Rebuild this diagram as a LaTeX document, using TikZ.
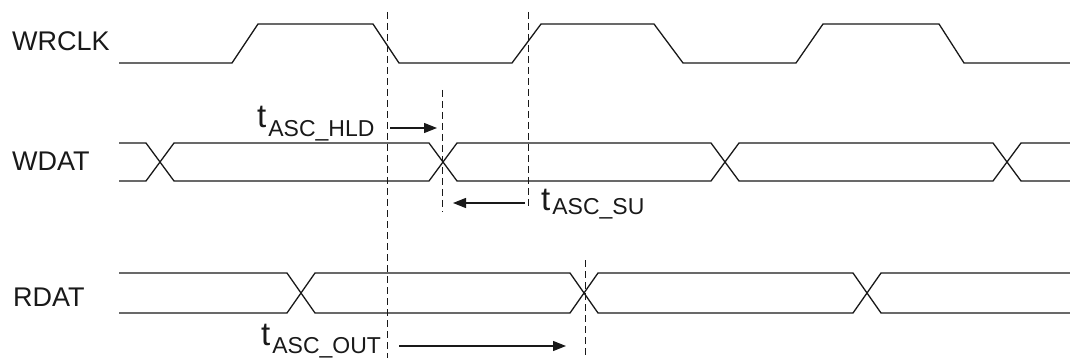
\documentclass[tikz,border=0pt]{standalone}
\usepackage{fontspec}
\setmainfont{Liberation Sans}
\usetikzlibrary{arrows.meta}
\newcommand\tsig[2]{{\fontsize{33}{38}\selectfont t}\hspace{2pt}\raisebox{-#2pt}{\fontsize{23}{27}\selectfont #1}}
\begin{document}
\begin{tikzpicture}[x=1pt,y=-1pt,
  sig/.style={line width=1.3pt, line join=miter, draw=black!90},
  guide/.style={line width=1pt, dash pattern=on 7pt off 4pt, draw=black!90},
  timarrow/.style={line width=1.2pt, draw=black!90, -{Triangle[length=13pt,width=10pt]}},
  lab/.style={anchor=base west, inner sep=0pt, text=black!90, font=\fontsize{27}{31}\selectfont},
  tlab/.style={anchor=base west, inner sep=0pt, text=black!90}]
\useasboundingbox (0,0) rectangle (1070,358);

% signal names
\node[lab] (wrclk) at (12,51) {WRCLK};
\node[lab] (wdat) at (12,171) {WDAT};
\node[lab] (rdat) at (13,306) {RDAT};

% WRCLK
\draw[sig] (119,63) -- (232,63) -- (258,24) -- (373,24) -- (399,63) -- (512,63) -- (541,24)
  -- (654,24) -- (683,63) -- (796,63) -- (823,24) -- (939,24) -- (964,63) -- (1070,63);

% WDAT (top 143, bottom 181), crossings at 160, 443, 725, 1007
\draw[sig] (119,143) -- (146,143) -- (174,181) -- (429,181) -- (457,143) -- (711,143) -- (739,181)
  -- (993,181) -- (1021,143) -- (1070,143);
\draw[sig] (119,181) -- (146,181) -- (174,143) -- (429,143) -- (457,181) -- (711,181) -- (739,143)
  -- (993,143) -- (1021,181) -- (1070,181);

% RDAT (top 273, bottom 313), crossings at 301, 584, 867
\draw[sig] (119,273) -- (287,273) -- (315,313) -- (570,313) -- (598,273) -- (853,273) -- (881,313)
  -- (1070,313);
\draw[sig] (119,313) -- (287,313) -- (315,273) -- (570,273) -- (598,313) -- (853,313) -- (881,273)
  -- (1070,273);

% dashed reference lines
\coordinate (d1t) at (387,12);   \coordinate (d1b) at (387,358);
\coordinate (d2t) at (528,12);   \coordinate (d2b) at (528,208);
\coordinate (d3t) at (442.5,90); \coordinate (d3b) at (442.5,212);
\coordinate (d4t) at (585,260);  \coordinate (d4b) at (585,358);
\draw[guide] (d1t) -- (d1b);
\draw[guide] (d2t) -- (d2b);
\draw[guide] (d3t) -- (d3b);
\draw[guide] (d4t) -- (d4b);

% timing arrows
\coordinate (hldA) at (390,128); \coordinate (hldB) at (437,128);
\coordinate (suA) at (525,203);  \coordinate (suB) at (453,203);
\coordinate (outA) at (399,346); \coordinate (outB) at (566,346);
\draw[timarrow] (hldA) -- (hldB);
\draw[timarrow] (suA) -- (suB);
\draw[timarrow] (outA) -- (outB);

% timing labels
\node[tlab] (hld) at (257,128) {\tsig{ASC\_HLD}{9}};
\node[tlab] (su) at (541,210) {\tsig{ASC\_SU}{5}};
\node[tlab] (out) at (261,345) {\tsig{ASC\_OUT}{8}};
\end{tikzpicture}
\end{document}
